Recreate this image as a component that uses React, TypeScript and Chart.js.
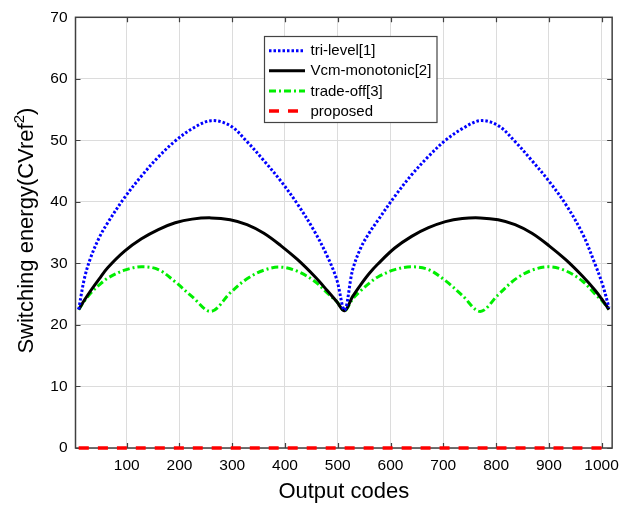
import React, { useEffect, useRef } from 'react';
import { Chart, registerables } from 'chart.js';

Chart.register(...registerables);

const codes = [9, 20, 32, 48, 64, 96, 128, 160, 192, 224, 260, 296, 328, 360, 392, 424, 456, 480, 498, 513,
  528, 544, 560, 576, 608, 640, 672, 704, 736, 770, 804, 836, 868, 900, 932, 964, 988, 1002, 1014];

const triLevel = [22.5, 27.6, 31.0, 34.2, 36.6, 40.7, 44.2, 47.3, 49.9, 51.9, 53.2, 52.4, 49.8, 46.7, 43.4, 39.6, 35.2, 31.2, 27.4, 22.4,
  28.9, 32.6, 35.0, 37.0, 40.9, 44.4, 47.4, 50.0, 51.9, 53.2, 52.4, 49.8, 46.7, 43.4, 39.6, 34.8, 29.8, 26.5, 22.8];

const vcmMonotonic = [22.5, 24.05, 25.6, 27.5, 29.3, 32.0, 34.0, 35.5, 36.6, 37.2, 37.4, 37.1, 36.3, 34.9, 32.9, 30.6, 27.9, 25.6, 23.8, 22.3,
  24.6, 26.6, 28.4, 29.9, 32.5, 34.4, 35.8, 36.8, 37.3, 37.4, 37.1, 36.3, 34.9, 32.9, 30.6, 27.9, 25.6, 24.0, 22.5];

const tradeOff = [22.5, 23.9, 25.2, 26.5, 27.6, 28.9, 29.45, 29.0, 27.0, 24.6, 22.2, 25.2, 27.5, 28.9, 29.4, 28.7, 27.1, 25.2, 23.8, 22.3,
  24.2, 25.6, 26.8, 27.8, 29.0, 29.45, 29.0, 27.2, 24.8, 22.2, 24.9, 27.4, 28.9, 29.45, 28.8, 27.1, 25.0, 23.8, 22.5];

const proposedCodes = [9, 1014];
const proposedValues = [0, 0];

const seriesLabels = ['tri-level[1]', 'Vcm-monotonic[2]', 'trade-off[3]', 'proposed'];
const xTickValues = [100, 200, 300, 400, 500, 600, 700, 800, 900, 1000];
const yTickValues = [0, 10, 20, 30, 40, 50, 60, 70];
const xTitle = 'Output codes';
const yTitleMain = 'Switching energy(CVref';
const yTitleSup = '2';
const yTitleEnd = ')';

const FONT = '"Liberation Sans", Arial, Helvetica, sans-serif';

const styles = [
  { color: '#0000ff', dash: [2.5, 2], width: 3 },
  { color: '#000000', dash: [] as number[], width: 3 },
  { color: '#00ee00', dash: [7, 3, 2, 3], width: 3 },
  { color: '#ff0000', dash: [10, 9], width: 3.5 },
];

const framePlugin = {
  id: 'framePlugin',
  beforeDatasetsDraw(chart: any) {
    const { ctx, chartArea: a, scales } = chart;
    ctx.save();
    ctx.strokeStyle = '#404040';
    ctx.lineWidth = 1.2;
    ctx.beginPath();
    const tl = 5;
    xTickValues.forEach((v) => {
      const x = Math.round(scales.x.getPixelForValue(v)) + 0.5;
      ctx.moveTo(x, a.bottom);
      ctx.lineTo(x, a.bottom - tl);
      ctx.moveTo(x, a.top);
      ctx.lineTo(x, a.top + tl);
    });
    yTickValues.forEach((v) => {
      const y = Math.round(scales.y.getPixelForValue(v)) + 0.5;
      ctx.moveTo(a.left, y);
      ctx.lineTo(a.left + tl, y);
      ctx.moveTo(a.right, y);
      ctx.lineTo(a.right - tl, y);
    });
    ctx.stroke();
    ctx.lineWidth = 1.5;
    ctx.strokeRect(a.left, a.top, a.right - a.left, a.bottom - a.top);
    ctx.restore();
  },
  afterDraw(chart: any) {
    const { ctx, chartArea: a } = chart;
    ctx.save();
    ctx.fillStyle = '#000';
    ctx.textBaseline = 'alphabetic';
    const mainFont = `22px ${FONT}`;
    const supFont = `15px ${FONT}`;
    ctx.font = mainFont;
    const w1 = ctx.measureText(yTitleMain).width;
    const w3 = ctx.measureText(yTitleEnd).width;
    ctx.font = supFont;
    const w2 = ctx.measureText(yTitleSup).width;
    const total = w1 + w2 + w3;
    const cy = (a.top + a.bottom) / 2 - 2;
    ctx.translate(32.5, cy);
    ctx.rotate(-Math.PI / 2);
    let x0 = -total / 2;
    ctx.font = mainFont;
    ctx.fillText(yTitleMain, x0, 0);
    x0 += w1;
    ctx.font = supFont;
    ctx.fillText(yTitleSup, x0, -9);
    x0 += w2;
    ctx.font = mainFont;
    ctx.fillText(yTitleEnd, x0, 0);
    ctx.restore();

    ctx.save();
    const bx = 264.5, by = 36.5, bw = 172.5, bh = 86;
    ctx.fillStyle = '#ffffff';
    ctx.fillRect(bx, by, bw, bh);
    ctx.strokeStyle = '#444444';
    ctx.lineWidth = 1.2;
    ctx.strokeRect(bx, by, bw, bh);
    const rows = [50.7, 70.7, 91, 111];
    ctx.font = `15px ${FONT}`;
    ctx.textBaseline = 'middle';
    seriesLabels.forEach((lab, i) => {
      const s = styles[i];
      ctx.strokeStyle = s.color;
      ctx.lineWidth = s.width;
      ctx.setLineDash(s.dash);
      ctx.beginPath();
      ctx.moveTo(269, rows[i]);
      ctx.lineTo(305, rows[i]);
      ctx.stroke();
      ctx.setLineDash([]);
      ctx.fillStyle = '#000';
      ctx.fillText(lab, 310.5, rows[i] + 0.5);
    });
    ctx.restore();
  },
};

export default function App() {
  const ref = useRef<HTMLCanvasElement | null>(null);
  useEffect(() => {
    document.body.style.margin = '0';
    const canvas = ref.current;
    if (!canvas) return;
    const mk = (xs: number[], ys: number[]) => xs.map((x, i) => ({ x, y: ys[i] }));
    const all = [
      mk(codes, triLevel),
      mk(codes, vcmMonotonic),
      mk(codes, tradeOff),
      mk(proposedCodes, proposedValues),
    ];
    const chart = new Chart(canvas, {
      type: 'line',
      data: {
        datasets: all.map((d, i) => ({
          label: seriesLabels[i],
          data: d,
          borderColor: styles[i].color,
          backgroundColor: styles[i].color,
          borderWidth: styles[i].width,
          borderDash: styles[i].dash,
          borderCapStyle: 'butt',
          borderJoinStyle: 'round',
          pointRadius: 0,
          fill: false,
          tension: 0.35,
          clip: false,
        })) as any,
      },
      options: {
        responsive: false,
        animation: false,
        devicePixelRatio: 1,
        layout: { padding: { left: 0, top: 16, right: 8, bottom: 0 } },
        plugins: { legend: { display: false }, tooltip: { enabled: false } },
        scales: {
          x: {
            type: 'linear',
            min: 3,
            max: 1020,
            afterFit: (s: any) => { s.height = 57; },
            afterBuildTicks: (s: any) => { s.ticks = xTickValues.map((v) => ({ value: v })); },
            grid: { color: '#dcdcdc', lineWidth: 1, drawTicks: false },
            border: { display: false },
            ticks: {
              color: '#000', padding: 8, maxRotation: 0, autoSkip: false,
              font: { family: FONT, size: 15.5 },
              callback: (v: any) => String(v),
            },
            title: { display: true, text: xTitle, color: '#000', padding: { top: 0, bottom: 0 }, font: { family: FONT, size: 22 } },
          },
          y: {
            type: 'linear',
            min: 0,
            max: 70,
            afterFit: (s: any) => { s.width = 75.5; },
            afterBuildTicks: (s: any) => { s.ticks = yTickValues.map((v) => ({ value: v })); },
            grid: { color: '#dcdcdc', lineWidth: 1, drawTicks: false },
            border: { display: false },
            ticks: {
              color: '#000', padding: 8, autoSkip: false,
              font: { family: FONT, size: 15.5 },
              callback: (v: any) => String(v),
            },
          },
        },
      },
      plugins: [framePlugin],
    });
    return () => chart.destroy();
  }, []);
  return (
    <div style={{ position: 'absolute', left: 0, top: 0, width: 627, height: 505 }}>
      <canvas ref={ref} width={627} height={505} style={{ display: 'block', width: 627, height: 505 }} />
    </div>
  );
}
